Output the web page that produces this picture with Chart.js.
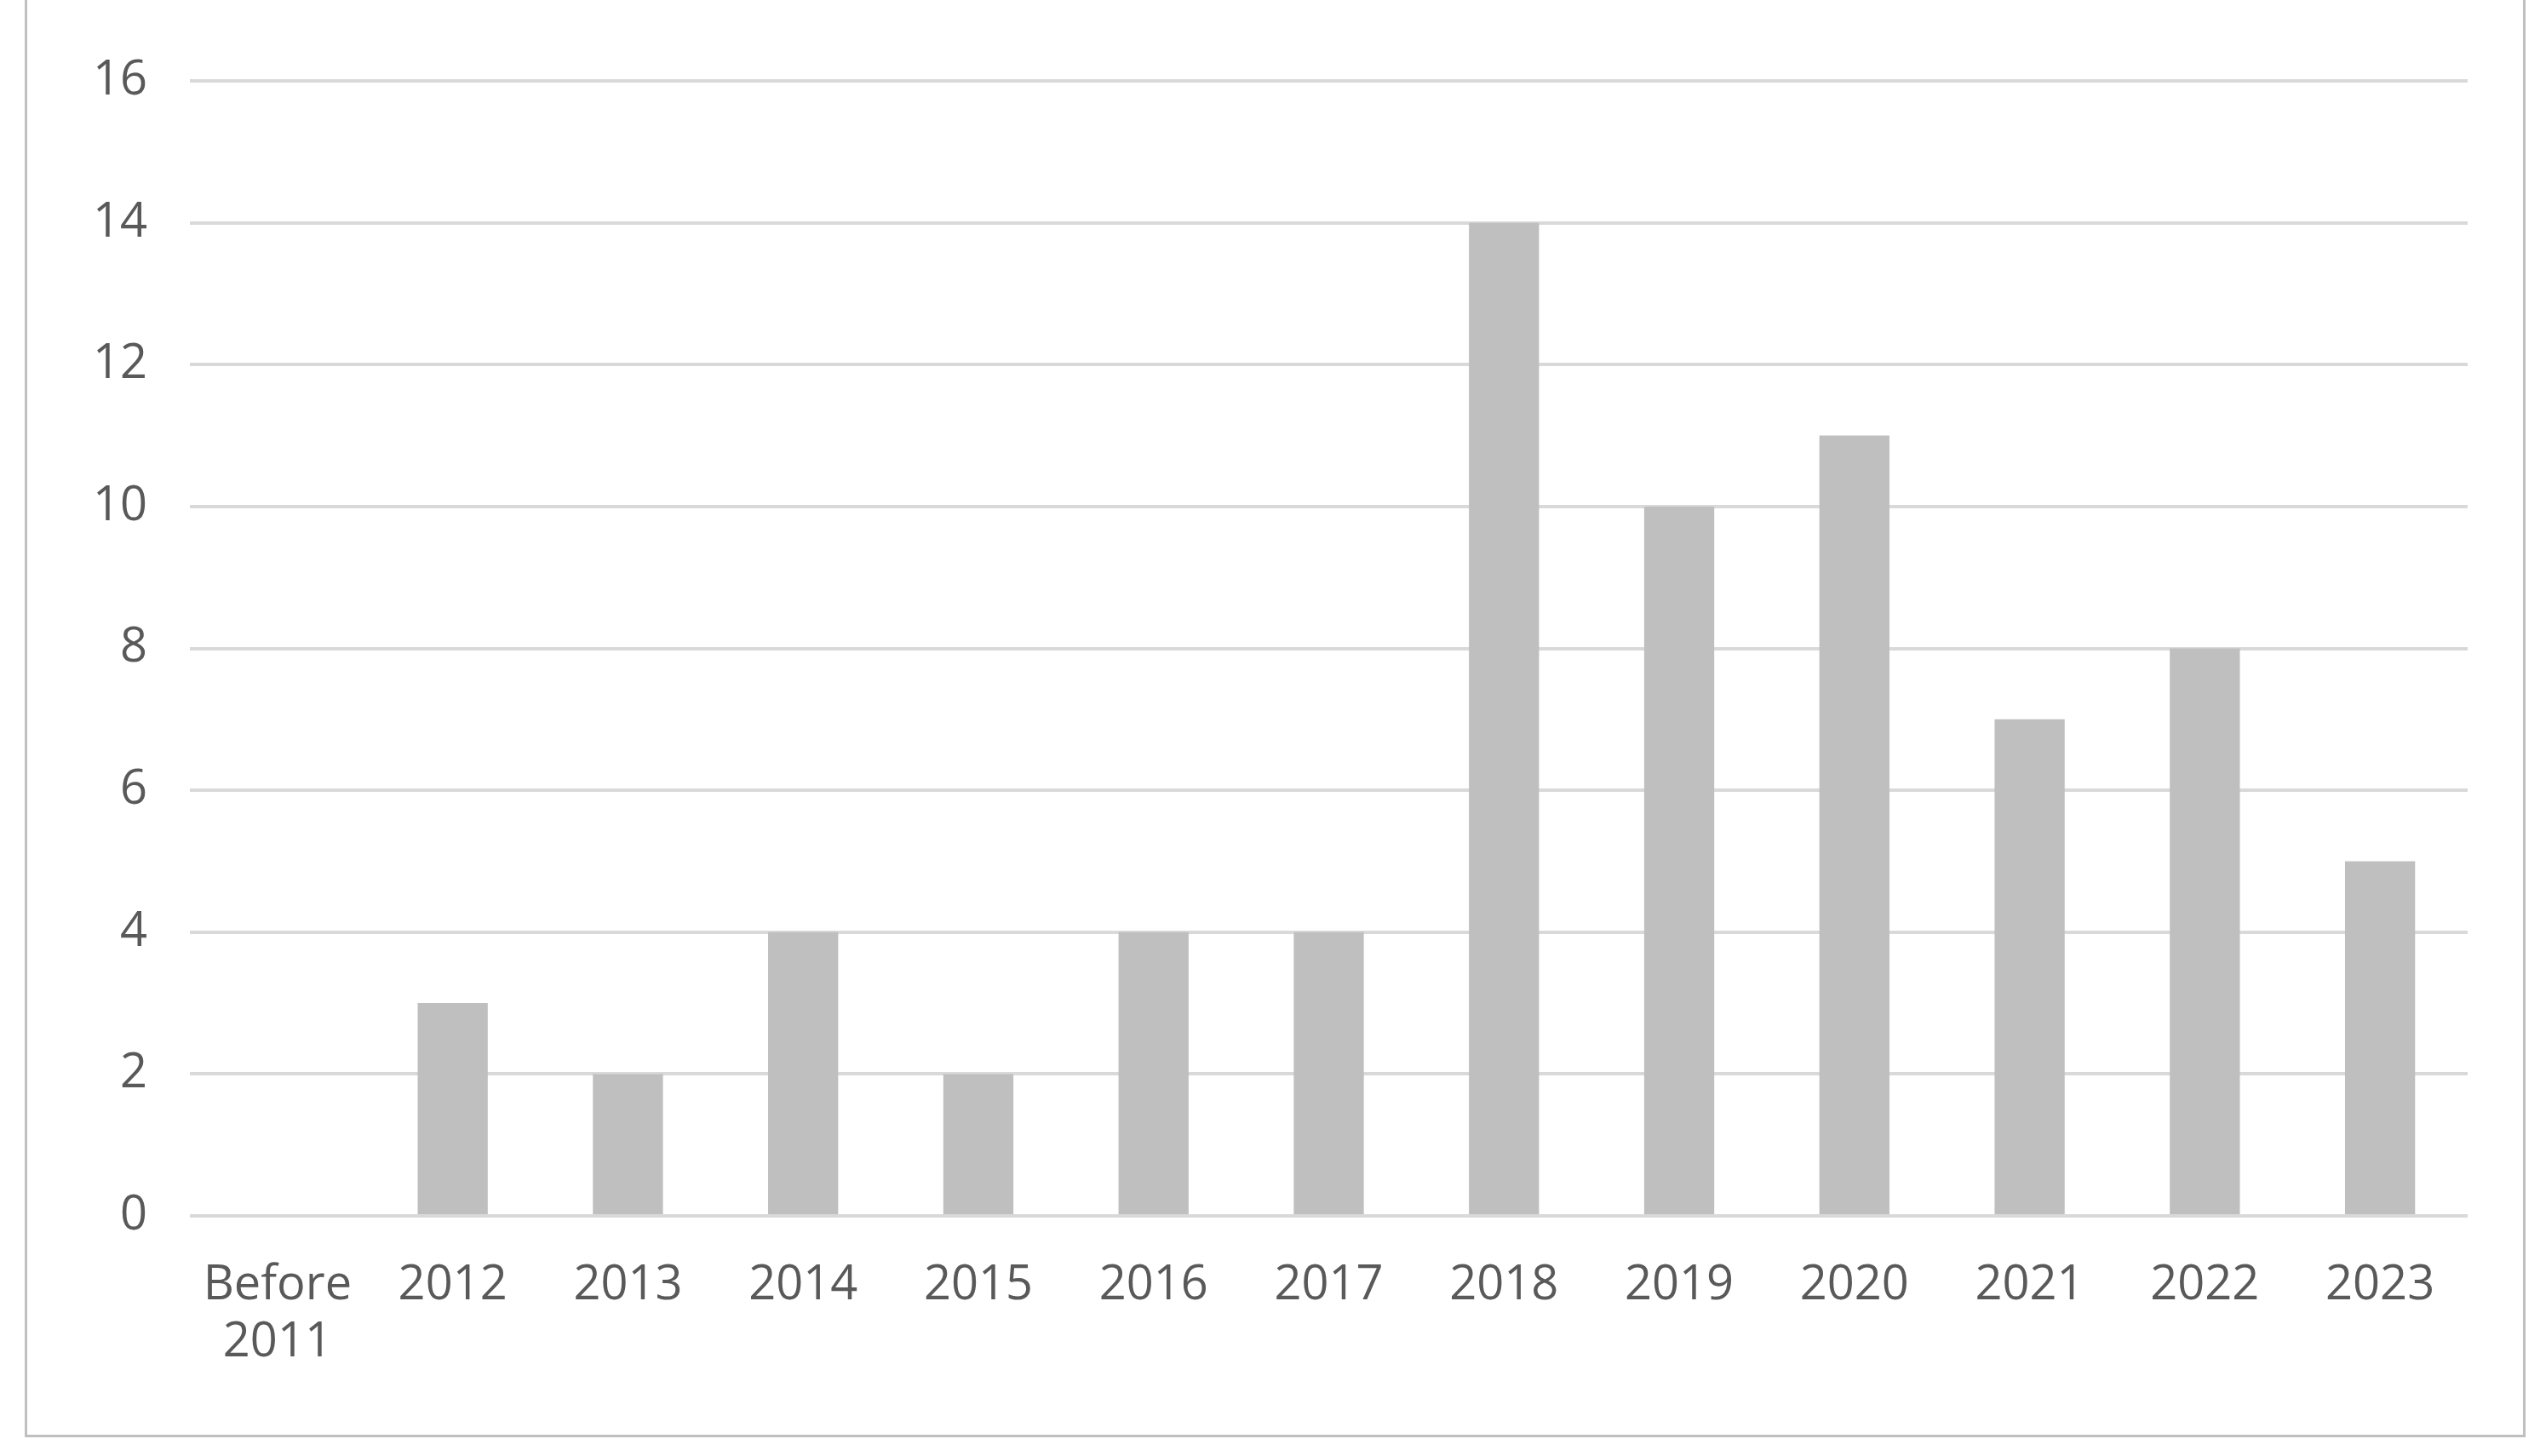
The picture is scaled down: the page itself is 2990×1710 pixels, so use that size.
<!DOCTYPE html>
<html><head><meta charset="utf-8">
<script src="https://cdn.jsdelivr.net/npm/chart.js@4"></script>
<style>
html,body{margin:0;padding:0;background:#fff;}
#wrap{position:absolute;left:0;top:0;width:2990px;height:1710px;}
#box{position:absolute;left:29px;top:-4px;width:2931px;height:1686px;border:3px solid #bfbfbf;}
canvas{position:absolute;left:0;top:0;}
</style></head><body>
<div id="wrap"><div id="box"></div><canvas id="c" width="2990" height="1710"></canvas></div>
<script>
const categories = [["Before","2011"],"2012","2013","2014","2015","2016","2017","2018","2019","2020","2021","2022","2023"];
const values = [0,3,2,4,2,4,4,14,10,11,7,8,5];
const yTicks = [0,2,4,6,8,10,12,14,16];
const font = {family:"'Open Sans', 'Liberation Sans', sans-serif", size:56};
new Chart(document.getElementById('c'),{
  type:'bar',
  data:{labels:categories,datasets:[{data:values,backgroundColor:'#bfbfbf',barPercentage:0.4,categoryPercentage:1}]},
  options:{responsive:false,animation:false,devicePixelRatio:1,
    layout:{padding:{left:29,right:92,top:95,bottom:0}},
    plugins:{legend:{display:false},tooltip:{enabled:false}},
    scales:{
      x:{grid:{display:false},border:{display:false},
         ticks:{color:'#595959',font:font,maxRotation:0,autoSkip:false,padding:40},
         afterFit(s){s.height=282;}},
      y:{min:0,max:16,grid:{color:'#d9d9d9',lineWidth:4,drawTicks:false},border:{display:false},
         afterBuildTicks(s){s.ticks=yTicks.map(v=>({value:v}));},
         ticks:{color:'#595959',font:font,padding:50},
         afterFit(s){s.width=194;}}
    }}
});
</script></body></html>
